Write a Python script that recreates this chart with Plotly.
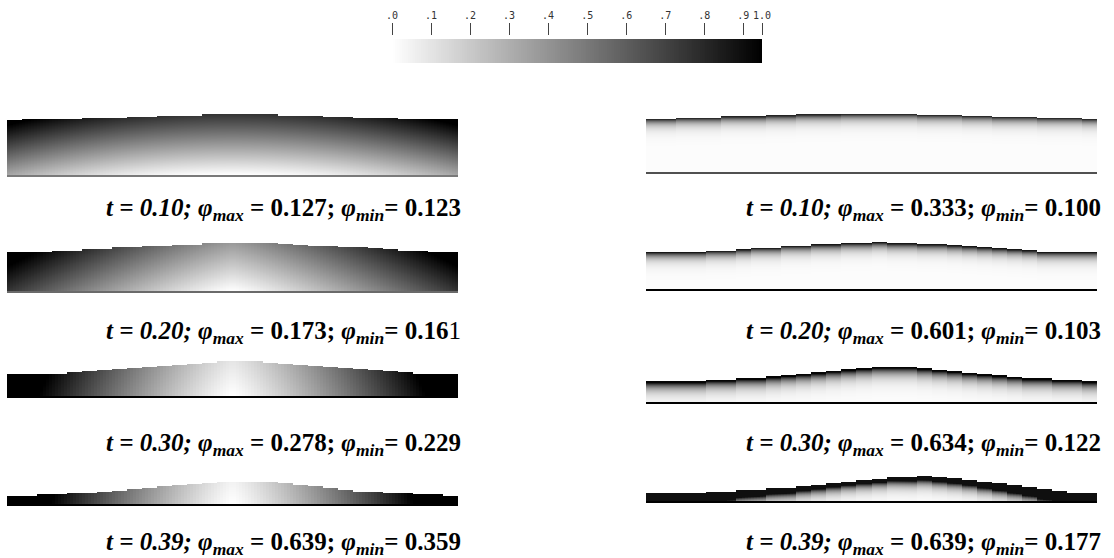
import numpy as np
import plotly.graph_objects as go

# ---------------- data ----------------
times = ["0.10", "0.20", "0.30", "0.39"]
left_phimax = ["0.127", "0.173", "0.278", "0.639"]
left_phimin = ["0.123", "0.16", "0.229", "0.359"]
left_phimin_tail = ["", "1", "", ""]          # last digit printed non-bold
right_phimax = ["0.333", "0.601", "0.634", "0.639"]
right_phimin = ["0.100", "0.103", "0.122", "0.177"]

# free-surface heights (px) of each of 30 columns
left_h1 = [55, 56, 56, 56, 56, 57.5, 57.5, 57.5, 58.5, 58.5, 59.5, 59.5, 59.5, 61, 61,
           61, 61, 61, 59.5, 59.5, 59.5, 58, 58, 56.7, 56.7, 56.7, 56, 56, 56, 56]
left_h2 = [38.7, 38.7, 38.7, 40, 40, 41.7, 41.7, 43.7, 43.7, 45.3, 45.3, 46.3, 46.3, 47.7, 47.7,
           47.7, 47.7, 47.7, 46.7, 46, 45.3, 45.3, 44.3, 43.7, 42.7, 41.7, 40.3, 40.3, 38.7, 38.7]
left_h3 = [22.3, 22.3, 22.3, 22.3, 24, 25, 26, 27, 28, 29, 30.3, 31.3, 32.3, 33.3, 34.7,
           34.7, 34.7, 33.3, 32, 31.3, 30.3, 29.3, 28, 27.3, 26.3, 25.3, 24, 22.3, 22.3, 22.3]
left_h4 = [8.3, 8.3, 9.7, 9.7, 10.7, 10.7, 12, 13.3, 15, 16.3, 17.7, 19.3, 20.3, 21.3, 22.3,
           22.3, 22.3, 22.3, 20.7, 19.3, 17.7, 16, 13.7, 12, 12, 10.7, 10.7, 9.7, 9.7, 8.3]
right_h1 = [53.3, 53.3, 54.3, 54.3, 54.3, 55.7, 55.7, 55.7, 56.7, 56.7, 57.7, 57.7, 57.7, 58.3, 58.3,
            58.3, 58.3, 58.3, 57.3, 57.3, 57.3, 56.3, 56.3, 55.3, 55.3, 55.3, 54.3, 54.3, 54.3, 53.3]
right_h2 = [37, 37, 37, 37, 38.3, 38.3, 39.7, 41.3, 41.3, 43.3, 43.3, 44.7, 44.7, 46, 46,
            47, 45.7, 45.7, 44.7, 44.7, 43.7, 42.7, 41.7, 40.7, 39.7, 38.7, 37, 37, 37, 37]
right_h3 = [20.7, 20.7, 20.7, 20.7, 22.3, 22.3, 24, 24, 25.7, 27, 28.3, 29.7, 31.3, 32.7, 34,
            35.3, 35.3, 35.3, 33.7, 32.3, 31, 29.3, 28, 26.7, 25.3, 23.7, 23.7, 22.3, 22.3, 20.7]
right_h4 = [7.7, 7.7, 7.7, 7.7, 9, 9, 11, 11, 12.7, 12.7, 14.7, 16, 17.7, 19.3, 20.7,
            22, 23.7, 23.7, 25, 23.7, 22.7, 21.3, 19.3, 17.7, 16, 14.3, 12, 10.3, 7.7, 7.7]
left_profiles = [left_h1, left_h2, left_h3, left_h4]
right_profiles = [right_h1, right_h2, right_h3, right_h4]

# shading parameters of the concentration field
left_kx = [0.35, 0.8, 1.2, 1.3]
left_px = [2.0, 1.2, 1.2, 1.2]
left_ky = [0.8, 0.4, 0.1, 0.05]
right_top = [0.85, 0.9, 0.97, 0.93]
right_len = [5.0, 5.0, 6.0, 5.0]
right_d0c = [0.6, 0.6, 1.5, 3.5]
right_d0e = [0.0, 0.0, 0.0, 12.0]

# colour bar
cb_tickvals = [0, .1, .2, .3, .4, .5, .6, .7, .8, .9, .948]
cb_ticktext = [".0", ".1", ".2", ".3", ".4", ".5", ".6", ".7", ".8", ".9", "1.0"]

# ---------------- layout constants ----------------
W, H = 1114, 558
left_x = (7, 458)
right_x = (646, 1097)
left_base = [175, 291, 396, 504]
right_base = [172, 289, 402, 501]
left_line = [("#7a7a7a", 2), ("#6a6a6a", 2), ("#000000", 1.5), ("#000000", 1.5)]
right_line = [("#505050", 1.5), ("#000000", 1.5), ("#000000", 1.5), ("#000000", 1.5)]
label_y = [209, 332, 444, 543]
left_label_x = 283
right_label_x = 923

SUB = 5      # sub-columns per surface step
DY = 1.0     # row height in px

GRAY = [[0, "#ffffff"], [1, "#000000"]]

fig = go.Figure()
layout = dict(width=W, height=H, margin=dict(l=0, r=0, t=0, b=0, autoexpand=False),
              paper_bgcolor="white", plot_bgcolor="rgba(0,0,0,0)", showlegend=False)


def field(prof, side, i):
    prof = np.asarray(prof, float)
    n = len(prof)
    hcol = np.repeat(prof, SUB)
    xc = (np.arange(n * SUB) + 0.5) / SUB
    hmax = float(np.ceil(prof.max()))
    ny = int(hmax)
    yc = (np.arange(ny) + 0.5) * DY
    X, Y = np.meshgrid(xc, yc)
    Hc = np.tile(hcol, (ny, 1))
    dxn = np.abs(X - n / 2) / (n / 2)
    if side == "L":
        z = left_kx[i] * dxn ** left_px[i] + left_ky[i] * (Y / hmax)
    else:
        d = Hc - Y
        d0 = right_d0c[i] + right_d0e[i] * dxn ** 2
        z = right_top[i] * np.exp(-np.maximum(0, d - d0) / right_len[i]) + 0.01
    z = np.clip(z, 0, 1)
    z = np.where(Y < Hc, z, np.nan)
    return xc, yc, z, hmax, n


k = 0
for side, profs, xr, bases, lines in (("L", left_profiles, left_x, left_base, left_line),
                                       ("R", right_profiles, right_x, right_base, right_line)):
    for i, prof in enumerate(profs):
        k += 1
        xc, yc, z, hmax, n = field(prof, side, i)
        xa = "x" if k == 1 else f"x{k}"
        ya = "y" if k == 1 else f"y{k}"
        fig.add_trace(go.Heatmap(x=xc, y=yc, z=z, colorscale=GRAY, zmin=0, zmax=1,
                                 showscale=False, xaxis=xa, yaxis=ya, hoverinfo="skip"))
        base = bases[i]
        col, lw = lines[i]
        layout["xaxis" if k == 1 else f"xaxis{k}"] = dict(
            domain=[xr[0] / W, xr[1] / W], range=[0, n], anchor=ya, automargin=False,
            showgrid=False, zeroline=False, showticklabels=False, ticks="",
            showline=True, linecolor=col, linewidth=lw)
        layout["yaxis" if k == 1 else f"yaxis{k}"] = dict(
            domain=[1 - base / H, 1 - (base - hmax) / H], range=[0, hmax], anchor=xa,
            automargin=False, showgrid=False, zeroline=False, showticklabels=False,
            ticks="", showline=False)

# colour bar strip
k += 1
cbx = np.linspace(0, 0.948, 200)
fig.add_trace(go.Heatmap(x=cbx, y=[0, 1], z=np.vstack([cbx / 0.948, cbx / 0.948]),
                         colorscale=GRAY, zmin=0, zmax=1, showscale=False,
                         xaxis=f"x{k}", yaxis=f"y{k}", hoverinfo="skip"))
layout[f"xaxis{k}"] = dict(domain=[392 / W, 762 / W], range=[0, 0.948],
                           anchor="free", position=1 - 35 / H, side="top",
                           tickvals=cb_tickvals, ticktext=cb_ticktext, ticks="outside",
                           ticklen=12, tickwidth=1, tickcolor="#444444", tickangle=0,
                           automargin=False,
                           tickfont=dict(family="DejaVu Sans Mono", size=10, color="#333333"),
                           showgrid=False, zeroline=False, showline=False)
layout[f"yaxis{k}"] = dict(domain=[1 - 63 / H, 1 - 39 / H], range=[-0.5, 1.5],
                           anchor=f"x{k}", visible=False, automargin=False)

# labels
ann = []
for i in range(4):
    tl = (f"<b><i>t = {times[i]};</i> <i>φ<sub>max</sub></i> = {left_phimax[i]}; "
          f"<i>φ<sub>min</sub></i>= {left_phimin[i]}</b>{left_phimin_tail[i]}")
    tr = (f"<b><i>t = {times[i]};</i> <i>φ<sub>max</sub></i> = {right_phimax[i]}; "
          f"<i>φ<sub>min</sub></i>= {right_phimin[i]}</b>")
    for txt, cx in ((tl, left_label_x), (tr, right_label_x)):
        ann.append(dict(text=txt, x=cx / W, y=1 - label_y[i] / H, xref="paper", yref="paper",
                        xanchor="center", yanchor="middle", showarrow=False,
                        font=dict(family="Liberation Serif", size=25, color="black")))
layout["annotations"] = ann

fig.update_layout(**layout)
fig.write_html("out.html", config={"displayModeBar": False},
               post_script="document.body.style.margin='0';document.body.style.overflow='hidden';")
